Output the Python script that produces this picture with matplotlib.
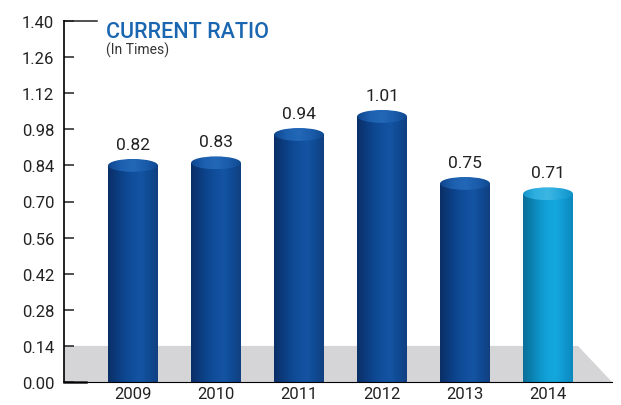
"""
Current ratio chart: cylinder-style bars standing on a grey floor.
"""
import numpy as np
import matplotlib
matplotlib.use('Agg')
import matplotlib.pyplot as plt
from matplotlib.colors import LinearSegmentedColormap
from matplotlib.patches import Rectangle, Ellipse, Polygon

plt.rcParams['font.family'] = ['Roboto', 'DejaVu Sans']

years = ['2009', '2010', '2011', '2012', '2013', '2014']
ratios = [0.82, 0.83, 0.94, 1.01, 0.75, 0.71]
y_ticks = [0.00, 0.14, 0.28, 0.42, 0.56, 0.70, 0.84, 0.98, 1.12, 1.26, 1.40]

# side and cap shading for the two bar colours
side_dark = ['#0a2f66', '#0c3a7c', '#0d4790', '#114f9c', '#1454a3', '#0f4a92', '#123f80']
cap_dark = ['#0f468d', '#1c5fae', '#2368b8', '#1b5cab', '#0f4a92']
side_cyan = ['#0a6f98', '#0b80ae', '#0e95c9', '#12a3db', '#14a7dd', '#0f97cf', '#0d88bd']
cap_cyan = ['#1497cc', '#2fb0e0', '#3cb6e3', '#22a6da', '#0f93c8']

bar_w = 0.6      # bar width in category units
cap_h = 0.05     # cap ellipse height in data units
cap_lift = 0.02  # cap sits slightly above the value

W, H = 621, 406
fig = plt.figure(figsize=(W / 100, H / 100), dpi=100)
ax = fig.add_axes([64 / W, (H - 383) / H, (612 - 64) / W, (383 - 22) / H])

x0, x1 = -0.831, 5.77
ax.set_xlim(x0, x1)
ax.set_ylim(0, 1.40)

# grey floor with a slanted right edge
floor = Polygon([(x0, 0), (x1, 0), (5.36, 0.14), (x0, 0.14)], closed=True,
                facecolor='#d5d5d7', edgecolor='none', zorder=0)
ax.add_patch(floor)

grad = np.linspace(0, 1, 256).reshape(1, -1)
for i, (year, val) in enumerate(zip(years, ratios)):
    side, cap = (side_cyan, cap_cyan) if year == '2014' else (side_dark, cap_dark)
    side_cmap = LinearSegmentedColormap.from_list('side%d' % i, side)
    cap_cmap = LinearSegmentedColormap.from_list('cap%d' % i, cap)
    top = val + cap_lift
    left, right = i - bar_w / 2, i + bar_w / 2

    # cylinder body
    body = ax.imshow(grad, cmap=side_cmap, aspect='auto', extent=[left, right, 0, top],
                     interpolation='bilinear', zorder=2)
    clip = Rectangle((left, 0), bar_w, top, transform=ax.transData, facecolor='none')
    body.set_clip_path(clip)

    # cylinder cap
    cap_img = ax.imshow(grad, cmap=cap_cmap, aspect='auto',
                        extent=[left, right, top - cap_h / 2, top + cap_h / 2],
                        interpolation='bilinear', zorder=3)
    ell = Ellipse((i, top), bar_w, cap_h, transform=ax.transData, facecolor='none')
    cap_img.set_clip_path(ell)

    ax.text(i, top + cap_h / 2 + 0.04, '%.2f' % val, ha='center', va='baseline',
            fontsize=12.5, color='#222222', zorder=4)

ax.set_xlim(x0, x1)
ax.set_ylim(0, 1.40)

# axes styling
for s in ['top', 'right']:
    ax.spines[s].set_visible(False)
ax.spines['left'].set_linewidth(1.2)
ax.spines['bottom'].set_linewidth(0.8)
ax.spines['left'].set_zorder(5)
ax.spines['bottom'].set_zorder(5)

ax.set_yticks(y_ticks)
ax.set_yticklabels(['%.2f' % t for t in y_ticks])
ax.tick_params(axis='y', direction='in', length=7, width=1.1, pad=7,
               labelsize=12, colors='#222222')
ax.set_xticks(range(len(years)))
ax.set_xticklabels(years)
ax.tick_params(axis='x', length=0, pad=3, labelsize=12, colors='#222222')

# longer marks at the top and at zero
ax.plot([0, 33 / 548], [1, 1], transform=ax.transAxes, color='#222222',
        lw=1.1, clip_on=False, zorder=5)
ax.plot([0, 22 / 548], [0, 0], transform=ax.transAxes, color='#222222',
        lw=1.8, clip_on=False, zorder=5)

fig.text(106 / W, 1 - 38 / H, 'CURRENT RATIO', fontsize=15.5, fontweight='medium',
         color='#1a66b0', ha='left', va='baseline')
fig.text(106 / W, 1 - 55 / H, '(In Times)', fontsize=10, color='#333333',
         ha='left', va='baseline')

fig.savefig('out.png', dpi=100)
